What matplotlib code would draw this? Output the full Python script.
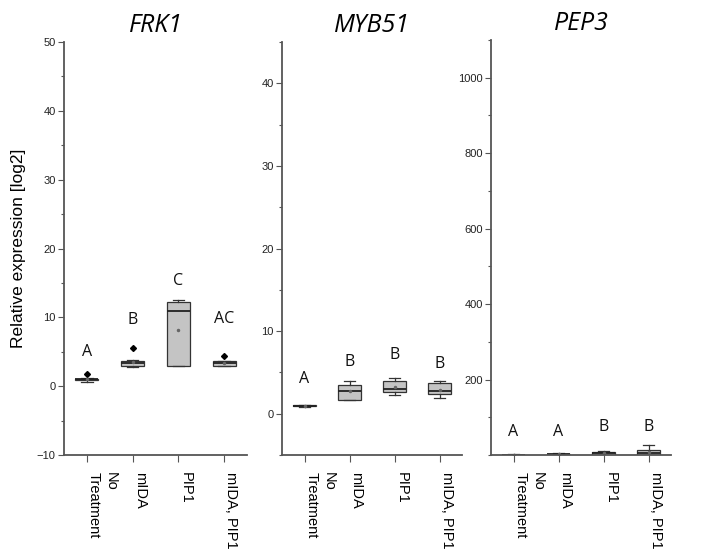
import matplotlib
matplotlib.use("Agg")
import matplotlib.pyplot as plt

# categories and gene names
treatments = ["No\nTreatment", "mIDA", "PIP1", "mIDA, PIP1"]
genes = ["FRK1", "MYB51", "PEP3"]

# box stats per gene: [whislo, q1, med, q3, whishi, mean]
frk1_stats = [[0.6, 0.9, 1.0, 1.1, 1.2, 1.0],
              [2.8, 2.9, 3.3, 3.7, 3.8, 3.5],
              [2.9, 3.0, 10.9, 12.2, 12.5, 8.2],
              [2.9, 3.0, 3.3, 3.6, 3.7, 3.3]]
frk1_fliers = [[1.7], [5.6], [], [4.4]]
frk1_letters = ["A", "B", "C", "AC"]
frk1_letter_y = [4.9, 9.6, 15.3, 9.7]

myb51_stats = [[0.85, 0.9, 0.97, 1.05, 1.1, 0.97],
               [1.6, 1.7, 2.8, 3.45, 4.0, 2.7],
               [2.3, 2.6, 3.05, 4.0, 4.3, 3.2],
               [1.9, 2.4, 2.7, 3.7, 3.9, 2.9]]
myb51_fliers = [[], [], [], []]
myb51_letters = ["A", "B", "B", "B"]
myb51_letter_y = [4.2, 6.2, 7.1, 6.0]

pep3_stats = [[0.5, 0.8, 1.0, 1.2, 1.5, 1.0],
              [1.0, 1.5, 2.5, 3.5, 4.0, 2.5],
              [0.5, 1.0, 4.4, 8.8, 11.5, 5.0],
              [0.5, 1.0, 6.0, 12.4, 25.7, 8.0]]
pep3_fliers = [[], [], [], []]
pep3_letters = ["A", "A", "B", "B"]
pep3_letter_y = [60, 62, 75, 75]

ylims = [(-10, 50), (-5, 45), (0, 1100)]
yticks = [range(-10, 51, 10), range(0, 41, 10), range(200, 1001, 200)]
yminor = [5, 5, 100]

all_stats = [frk1_stats, myb51_stats, pep3_stats]
all_fliers = [frk1_fliers, myb51_fliers, pep3_fliers]
all_letters = [frk1_letters, myb51_letters, pep3_letters]
all_letter_y = [frk1_letter_y, myb51_letter_y, pep3_letter_y]

fig = plt.figure(figsize=(7.16, 5.58), dpi=100)
axes_pos = [[0.0894, 0.1846, 0.2556, 0.7401],
            [0.3939, 0.1846, 0.2514, 0.7401],
            [0.6858, 0.1846, 0.2514, 0.7437]]

spine_col = "#555555"
for i in range(3):
    ax = fig.add_axes(axes_pos[i])
    bxp = []
    for s, fl in zip(all_stats[i], all_fliers[i]):
        bxp.append(dict(whislo=s[0], q1=s[1], med=s[2], q3=s[3],
                        whishi=s[4], mean=s[5], fliers=fl))
    ax.bxp(bxp, positions=[1, 2, 3, 4], widths=0.5, capwidths=0.25,
           showmeans=True, patch_artist=True,
           boxprops=dict(facecolor="#c4c4c4", edgecolor="#333333", linewidth=0.9),
           medianprops=dict(color="#222222", linewidth=1.3),
           whiskerprops=dict(color="#333333", linewidth=0.9),
           capprops=dict(color="#333333", linewidth=0.9),
           meanprops=dict(marker="o", markersize=1.5, markerfacecolor="#666666",
                          markeredgecolor="#666666"),
           flierprops=dict(marker="D", markersize=3, markerfacecolor="black",
                           markeredgecolor="black"))

    for x, (lab, ly) in enumerate(zip(all_letters[i], all_letter_y[i]), start=1):
        ax.text(x, ly, lab, ha="center", va="center", fontsize=11.5,
                family="Open Sans", color="#111111")

    ax.set_xlim(0.5, 4.5)
    ax.set_ylim(*ylims[i])
    ax.set_yticks(list(yticks[i]))
    ax.yaxis.set_minor_locator(matplotlib.ticker.MultipleLocator(yminor[i]))
    ax.set_xticks([1, 2, 3, 4])
    ax.set_xticklabels(treatments, rotation=270, ha="left", va="top",
                       fontsize=10.5, family="Liberation Sans", linespacing=1.25)
    ax.tick_params(axis="y", labelsize=8, length=4, width=0.8, color=spine_col,
                   labelcolor="#222222", pad=2)
    ax.tick_params(axis="y", which="minor", length=2, width=0.8, color=spine_col)
    ax.tick_params(axis="x", length=5, width=0.8, color=spine_col, pad=7)
    for lbl in ax.get_yticklabels():
        lbl.set_family("Liberation Sans")
    for side in ["top", "right"]:
        ax.spines[side].set_visible(False)
    for side in ["left", "bottom"]:
        ax.spines[side].set_color(spine_col)
        ax.spines[side].set_linewidth(1.3)
    ax.set_title(genes[i], fontsize=18, style="italic", family="Open Sans",
                 pad=7)
    if i == 0:
        ax.set_ylabel("Relative expression [log2]", fontsize=12.5,
                      family="Liberation Sans", labelpad=8)

fig.savefig("out.png", dpi=100)
